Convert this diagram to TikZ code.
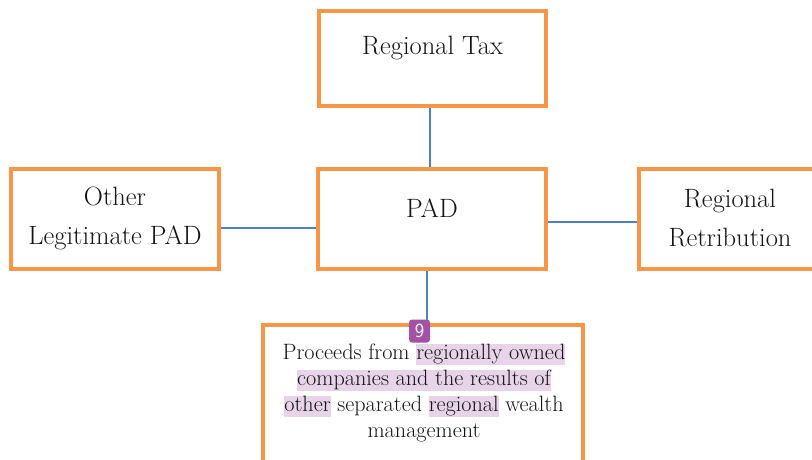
\documentclass[tikz,border=0pt]{standalone}
\usepackage{xcolor}
\definecolor{boxorange}{HTML}{F79646}
\definecolor{linkblue}{HTML}{4F81BD}
\definecolor{hlpurple}{HTML}{E7D4E9}
\definecolor{badgepurple}{HTML}{A352A6}
\newcommand{\hlt}[1]{{\setlength{\fboxsep}{0pt}\colorbox{hlpurple}{\rule[-6pt]{0pt}{20pt}#1}}}
\begin{document}
\begin{tikzpicture}[x=1pt,y=-1pt,
  boxnode/.style={draw=boxorange, line width=4pt, fill=white, inner sep=0pt},
  bigtxt/.style={font=\fontsize{26.5}{39}\selectfont, align=center, inner sep=0pt, text=black!92},
  smalltxt/.style={font=\fontsize{22.2}{26}\selectfont, align=center, inner sep=0pt, text=black!92},
  link/.style={draw=linkblue, line width=1.5pt},
  badgenode/.style={fill=badgepurple, rounded corners=3pt, minimum width=21pt, minimum height=23pt, inner sep=0pt, text=white, font=\sffamily\fontsize{20}{22}\selectfont}]
\useasboundingbox (0,0) rectangle (812,460);
% boxes
\node[boxnode, minimum width=227pt, minimum height=95pt] (tax) at (432.5,58.5) {};
\node[boxnode, minimum width=228pt, minimum height=100pt] (pad) at (432,219) {};
\node[boxnode, minimum width=208pt, minimum height=100pt] (other) at (115,219) {};
\node[boxnode, minimum width=182pt, minimum height=100pt] (retr) at (730,219) {};
\node[boxnode, minimum width=320pt, minimum height=165pt] (proc) at (423,407.5) {};
% texts
\node[bigtxt] (taxt) at (432.5,48) {Regional Tax};
\node[bigtxt] (padt) at (432,208) {PAD};
\node[bigtxt] (othert) at (115,218) {Other\\Legitimate PAD};
\node[bigtxt] (retrt) at (730,218) {Regional\\Retribution};
\node[smalltxt, anchor=north] (proct) at (424,343.5) {Proceeds from \hlt{regionally owned}\\\hlt{companies and the results of}\\\hlt{other} separated \hlt{regional} wealth\\management};
% connectors
\draw[link] ([xshift=-2.5pt]tax.south) -- ([xshift=-2.5pt]tax.south |- pad.north);
\draw[link] ([yshift=-9pt]other.east) -- ([yshift=-9pt]other.east -| pad.west);
\draw[link] ([yshift=-3pt]pad.east) -- ([yshift=-3pt]pad.east -| retr.west);
\draw[link] ([xshift=-5pt]pad.south) -- ([xshift=-5pt]pad.south |- proc.north);
% badge
\node[badgenode] (nine) at (419.5,331) {9};
\end{tikzpicture}
\end{document}
